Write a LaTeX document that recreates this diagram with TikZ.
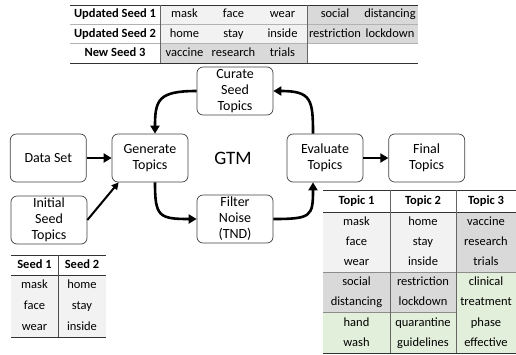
\documentclass[tikz,border=0pt]{standalone}
\usepackage{fontspec}
\setmainfont{Carlito}
\usepackage{xcolor}
\usetikzlibrary{arrows.meta,positioning,calc}
\definecolor{cellgray}{HTML}{F2F2F2}
\definecolor{celldark}{HTML}{D9D9D9}
\definecolor{cellgreen}{HTML}{E2EFDA}

\begin{document}
\begin{tikzpicture}[
  x=1pt, y=-1pt,
  every node/.style={font=\fontsize{14}{16}\selectfont, inner sep=0pt},
  box/.style={draw=black!75, line width=0.7pt, rounded corners=6pt,
              minimum width=76pt, minimum height=48pt, align=center},
  cell/.style={font=\fontsize{12.5}{14}\selectfont, text height=9pt, text depth=2.5pt},
  head/.style={cell, font=\fontsize{12.5}{14}\selectfont\bfseries},
  rule/.style={draw=black!80, line width=0.9pt},
  thinrule/.style={draw=black!30, line width=0.5pt},
  arrow/.style={-{Triangle[length=8pt,width=9pt]}, line width=2.6pt}
]
\useasboundingbox (0,0) rectangle (516,354);

\node[box] (gen) at (150,158) {Generate\\Topics};
\node[box, left=25pt of gen] (data) {Data Set};
\node[box] (curate) at (235,91) {Curate\\Seed\\Topics};
\node[box] (filter) at (235,219) {Filter\\Noise\\(TND)};
\node[box] (eval) at (325,158) {Evaluate\\Topics};
\node[box, right=25pt of eval] (final) {Final\\Topics};
\node[box] (init) at (49,220) {Initial\\Seed\\Topics};
\node[font=\fontsize{19}{22}\selectfont] (gtm) at (233,158) {GTM};

\draw[arrow] (data) -- (gen);
\draw[arrow] (eval) -- (final);
\draw[-{Triangle[length=7pt,width=7pt]}, line width=2pt] (init.east) -- ([xshift=7pt]gen.south west);
\draw[arrow] (curate.west) .. controls +(-38,0) and +(0,-34) .. ([xshift=5pt]gen.north);
\draw[arrow] ([xshift=5pt]gen.south) .. controls +(0,34) and +(-38,0) .. (filter.west);
\draw[arrow] (filter.east) .. controls +(38,0) and +(0,34) .. ([xshift=-12pt]eval.south);
\draw[arrow] ([xshift=-12pt]eval.north) .. controls +(0,-34) and +(38,0) .. (curate.east);

\fill[cellgray] (160,5) rectangle (307,43.6);
\fill[celldark] (307,5) rectangle (418,43.6);
\fill[celldark] (160,43.6) rectangle (307,63);
\draw[thinrule] (70,24.3) -- (418,24.3) (70,43.6) -- (418,43.6);
\draw[rule] (70,5) -- (418,5) (70,63) -- (418,63);
\draw[rule, draw=black!60] (160,5) -- (160,63) (307,5) -- (307,63);
\node[head] (us1) at (115,14.6) {Updated Seed 1};
\node[head] (us2) at (115,34) {Updated Seed 2};
\node[head] (ns3) at (115,53.3) {New Seed 3};
\foreach \w/\x [count=\i] in {mask/184.5, face/233.5, wear/282.5, social/335, distancing/390}
  \node[cell] (ua-\i) at (\x,14.6) {\w};
\foreach \w/\x [count=\i] in {home/184.5, stay/233.5, inside/282.5, restriction/335, lockdown/390}
  \node[cell] (ub-\i) at (\x,34) {\w};
\foreach \w/\x [count=\i] in {vaccine/184.5, research/233.5, trials/282.5}
  \node[cell] (nc-\i) at (\x,53.3) {\w};

\fill[cellgray] (11,275) rectangle (106,337);
\draw[rule] (11,255) -- (106,255) (11,275) -- (106,275) (11,337) -- (106,337);
\draw[rule, draw=black!70] (58,255) -- (58,337);
\node[head] (s1) at (34.5,265) {Seed 1};
\node[head] (s2) at (82,265) {Seed 2};
\foreach \a/\b [count=\i] in {mask/home, face/stay, wear/inside} {
  \node[cell] (sa-\i) at (34.5,{275+20.7*\i-10.35}) {\a};
  \node[cell] (sb-\i) at (82,{275+20.7*\i-10.35}) {\b};
}

\fill[cellgray] (323,212) rectangle (456,272.4);
\fill[celldark] (456,212) rectangle (516,272.4);
\fill[celldark] (323,272.4) rectangle (456,312.7);
\fill[cellgreen] (323,312.7) rectangle (456,353);
\fill[cellgreen] (456,272.4) rectangle (516,353);
\draw[thinrule, draw=black!45] (323,272.4) -- (516,272.4) (323,312.7) -- (456,312.7);
\draw[rule] (323,190) -- (516,190) (323,212) -- (516,212) (323,353) -- (516,353);
\draw[rule, draw=black!60] (390,190) -- (390,353) (456,190) -- (456,353);
\node[head] (t1) at (356.5,201) {Topic 1};
\node[head] (t2) at (423,201) {Topic 2};
\node[head] (t3) at (486,201) {Topic 3};
\foreach \w [count=\i] in {mask,face,wear,social,distancing,hand,wash}
  \node[cell] (ta-\i) at (356.5,{212+20.14*\i-10.07}) {\w};
\foreach \w [count=\i] in {home,stay,inside,restriction,lockdown,quarantine,guidelines}
  \node[cell] (tb-\i) at (423,{212+20.14*\i-10.07}) {\w};
\foreach \w [count=\i] in {vaccine,research,trials,clinical,treatment,phase,effective}
  \node[cell] (tc-\i) at (486,{212+20.14*\i-10.07}) {\w};
\end{tikzpicture}
\end{document}
